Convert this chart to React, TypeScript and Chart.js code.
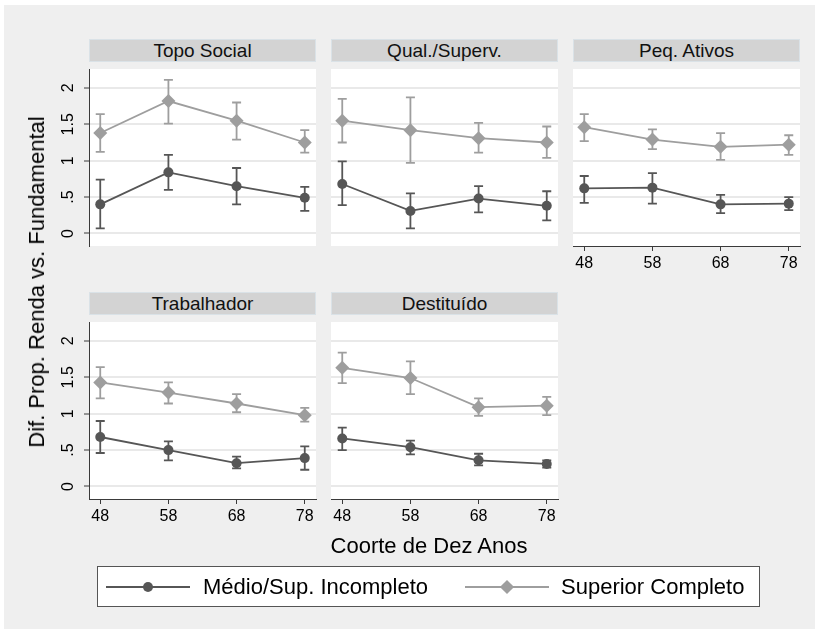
import React, { useEffect, useRef } from "react";
import { Chart, registerables } from "chart.js";
Chart.register(...registerables);

// ---------- data ----------
const cohorts = [48, 58, 68, 78];
const xTickLabels = ["48", "58", "68", "78"];
const panelTitles = ["Topo Social", "Qual./Superv.", "Peq. Ativos", "Trabalhador", "Destituído"];
const seriesLabels = ["Médio/Sup. Incompleto", "Superior Completo"];
const yTickValues = [0, 0.5, 1, 1.5, 2];
const yTickLabels = ["0", ".5", "1", "1.5", "2"];
const xAxisTitle = "Coorte de Dez Anos";
const yAxisTitle = "Dif. Prop. Renda vs. Fundamental";

const medioEst = [
  [0.40, 0.84, 0.65, 0.49],
  [0.68, 0.31, 0.48, 0.38],
  [0.62, 0.63, 0.40, 0.41],
  [0.68, 0.50, 0.32, 0.39],
  [0.66, 0.54, 0.36, 0.31],
];
const medioLo = [
  [0.07, 0.60, 0.40, 0.31],
  [0.39, 0.07, 0.29, 0.18],
  [0.42, 0.41, 0.28, 0.32],
  [0.46, 0.36, 0.25, 0.23],
  [0.50, 0.44, 0.29, 0.26],
];
const medioHi = [
  [0.74, 1.08, 0.90, 0.64],
  [0.99, 0.55, 0.65, 0.58],
  [0.79, 0.83, 0.53, 0.50],
  [0.90, 0.62, 0.41, 0.55],
  [0.81, 0.63, 0.45, 0.36],
];
const superEst = [
  [1.38, 1.82, 1.55, 1.25],
  [1.55, 1.42, 1.31, 1.25],
  [1.46, 1.29, 1.19, 1.22],
  [1.43, 1.29, 1.14, 0.98],
  [1.63, 1.49, 1.09, 1.11],
];
const superLo = [
  [1.12, 1.51, 1.29, 1.11],
  [1.25, 0.97, 1.11, 1.04],
  [1.27, 1.16, 1.01, 1.08],
  [1.21, 1.14, 1.02, 0.89],
  [1.42, 1.27, 0.97, 0.98],
];
const superHi = [
  [1.64, 2.11, 1.80, 1.42],
  [1.85, 1.87, 1.52, 1.47],
  [1.64, 1.43, 1.38, 1.35],
  [1.64, 1.43, 1.27, 1.08],
  [1.84, 1.72, 1.21, 1.23],
];

// ---------- layout & style ----------
const FONT = "'Liberation Sans', Arial, Helvetica, sans-serif";
const DARK = "#565656";
const LIGHT = "#9e9e9e";
const AXIS = "#3a3a3a";
const GRID = "#e9e9e9";
const BG = "#efefef";
const HEADER_BG = "#d3d3d3";
const PLOT_W = 227;
const PLOT_H = 184;
const HEADER_H = 23;
const AXIS_W = 60;
const AXIS_H = 40;
const PAD_R = 14;
const X_MIN = 46.35;
const X_MAX = 79.65;
const Y_MIN = -0.172;
const Y_MAX = 2.26;

const panelPos = [
  { left: 89, top: 62, yAxis: true, xAxis: false },
  { left: 331, top: 62, yAxis: false, xAxis: false },
  { left: 573, top: 62, yAxis: false, xAxis: true },
  { left: 89, top: 315, yAxis: true, xAxis: true },
  { left: 331, top: 315, yAxis: false, xAxis: true },
];

const bgPlugin = {
  id: "plotBg",
  beforeDraw(chart: any) {
    const { ctx, chartArea } = chart;
    ctx.save();
    ctx.fillStyle = "#ffffff";
    ctx.fillRect(chartArea.left, chartArea.top, chartArea.right - chartArea.left, chartArea.bottom - chartArea.top);
    ctx.restore();
  },
};

const errorBarPlugin = {
  id: "errorBars",
  beforeDatasetsDraw(chart: any) {
    const { ctx } = chart;
    const xs = chart.scales.x;
    const ys = chart.scales.y;
    chart.data.datasets.forEach((ds: any) => {
      ctx.save();
      ctx.strokeStyle = ds.borderColor;
      ctx.lineWidth = 1.8;
      ds.data.forEach((pt: any, j: number) => {
        const x = xs.getPixelForValue(pt.x);
        const yl = ys.getPixelForValue(ds.lo[j]);
        const yh = ys.getPixelForValue(ds.hi[j]);
        ctx.beginPath();
        ctx.moveTo(x, yl);
        ctx.lineTo(x, yh);
        ctx.moveTo(x - 4.5, yl);
        ctx.lineTo(x + 4.5, yl);
        ctx.moveTo(x - 4.5, yh);
        ctx.lineTo(x + 4.5, yh);
        ctx.stroke();
      });
      ctx.restore();
    });
  },
};

function makeYLabelPlugin(show: boolean) {
  return {
    id: "yLabels",
    afterDraw(chart: any) {
      if (!show) return;
      const { ctx, chartArea } = chart;
      const ys = chart.scales.y;
      ctx.save();
      ctx.fillStyle = "#000";
      ctx.font = `16px ${FONT}`;
      ctx.textAlign = "center";
      ctx.textBaseline = "middle";
      yTickValues.forEach((v, i) => {
        const y = ys.getPixelForValue(v);
        ctx.save();
        ctx.translate(chartArea.left - 20, y);
        ctx.rotate(-Math.PI / 2);
        ctx.fillText(yTickLabels[i], 0, 0);
        ctx.restore();
      });
      ctx.restore();
    },
  };
}

function Panel({ idx }: { idx: number }) {
  const ref = useRef<HTMLCanvasElement>(null);
  const pos = panelPos[idx];
  useEffect(() => {
    const chart = new Chart(ref.current as HTMLCanvasElement, {
      type: "scatter",
      data: {
        datasets: [
          {
            label: seriesLabels[0],
            data: cohorts.map((c, i) => ({ x: c, y: medioEst[idx][i] })),
            lo: medioLo[idx],
            hi: medioHi[idx],
            showLine: true,
            borderColor: DARK,
            backgroundColor: DARK,
            borderWidth: 1.8,
            pointStyle: "circle",
            pointRadius: 5,
            pointBorderWidth: 0,
            pointBackgroundColor: DARK,
          } as any,
          {
            label: seriesLabels[1],
            data: cohorts.map((c, i) => ({ x: c, y: superEst[idx][i] })),
            lo: superLo[idx],
            hi: superHi[idx],
            showLine: true,
            borderColor: LIGHT,
            backgroundColor: LIGHT,
            borderWidth: 1.8,
            pointStyle: "rectRot",
            pointRadius: 7,
            pointBorderWidth: 0,
            pointBackgroundColor: LIGHT,
          } as any,
        ],
      },
      options: {
        responsive: false,
        animation: false,
        devicePixelRatio: 1,
        layout: { padding: { left: 0, right: PAD_R, top: 0, bottom: 0 } },
        plugins: { legend: { display: false }, tooltip: { enabled: false } },
        scales: {
          x: {
            type: "linear",
            min: X_MIN,
            max: X_MAX,
            afterBuildTicks: (s: any) => {
              s.ticks = cohorts.map((v) => ({ value: v }));
            },
            afterFit: (s: any) => {
              s.height = AXIS_H;
            },
            ticks: {
              display: pos.xAxis,
              maxRotation: 0,
              minRotation: 0,
              padding: 3,
              color: "#000",
              font: { family: FONT, size: 16 },
              callback: (v: any) => xTickLabels[cohorts.indexOf(Number(v))] ?? "",
            },
            grid: {
              display: pos.xAxis,
              drawOnChartArea: false,
              drawTicks: true,
              tickLength: 5,
              color: AXIS,
              tickColor: AXIS,
              tickWidth: 1,
            },
            border: { display: pos.xAxis, color: AXIS, width: 1 },
          },
          y: {
            type: "linear",
            min: Y_MIN,
            max: Y_MAX,
            afterBuildTicks: (s: any) => {
              s.ticks = yTickValues.map((v) => ({ value: v }));
            },
            afterFit: (s: any) => {
              s.width = AXIS_W;
            },
            ticks: { display: false },
            grid: {
              color: GRID,
              lineWidth: 2,
              drawTicks: pos.yAxis,
              tickLength: 5,
              tickColor: AXIS,
              tickWidth: 1,
            },
            border: { display: pos.yAxis, color: AXIS, width: 1 },
          },
        },
      } as any,
      plugins: [bgPlugin, errorBarPlugin, makeYLabelPlugin(pos.yAxis)],
    });
    return () => chart.destroy();
  }, [idx]);

  const cw = PLOT_W + AXIS_W + PAD_R;
  const ch = PLOT_H + AXIS_H;
  return (
    <>
      <div
        style={{
          position: "absolute",
          left: pos.left,
          top: pos.top - HEADER_H,
          width: PLOT_W,
          height: HEADER_H,
          boxSizing: "border-box",
          background: HEADER_BG,
          border: "1px solid #dae2e7",
          fontFamily: FONT,
          fontSize: 19,
          lineHeight: `${HEADER_H - 2}px`,
          color: "#111",
          textAlign: "center",
          whiteSpace: "nowrap",
        }}
      >
        {panelTitles[idx]}
      </div>
      <canvas
        ref={ref}
        width={cw}
        height={ch}
        style={{ position: "absolute", left: pos.left - AXIS_W, top: pos.top, width: cw, height: ch }}
      />
    </>
  );
}

const legendText: React.CSSProperties = {
  position: "absolute",
  top: 0,
  height: 39,
  fontFamily: FONT,
  fontSize: 22,
  lineHeight: "39px",
  color: "#000",
  whiteSpace: "nowrap",
};

export default function App() {
  return (
    <div style={{ position: "absolute", left: 0, top: 0, width: 819, height: 633, background: "#fff", overflow: "hidden", fontFamily: FONT }}>
      <div style={{ position: "absolute", left: 4, top: 5, width: 811, height: 624, background: BG }} />
      {panelPos.map((_, i) => (
        <Panel key={i} idx={i} />
      ))}
      {/* y axis title */}
      <div
        style={{
          position: "absolute",
          left: 37,
          top: 282,
          transform: "translate(-50%, -50%) rotate(-90deg)",
          fontFamily: FONT,
          fontSize: 22,
          lineHeight: "26px",
          color: "#000",
          whiteSpace: "nowrap",
        }}
      >
        {yAxisTitle}
      </div>
      {/* x axis title */}
      <div
        style={{
          position: "absolute",
          left: 429,
          top: 546,
          transform: "translate(-50%, -50%)",
          fontFamily: FONT,
          fontSize: 22,
          lineHeight: "26px",
          color: "#000",
          whiteSpace: "nowrap",
        }}
      >
        {xAxisTitle}
      </div>
      {/* legend */}
      <div
        style={{
          position: "absolute",
          left: 97,
          top: 566,
          width: 663,
          height: 41,
          boxSizing: "border-box",
          background: "#fff",
          border: "1px solid #555",
        }}
      >
        <div style={{ position: "absolute", left: 8, top: 19, width: 84, height: 2, background: DARK }} />
        <div style={{ position: "absolute", left: 45, top: 15, width: 10, height: 10, borderRadius: "50%", background: DARK }} />
        <div style={{ ...legendText, left: 105 }}>{seriesLabels[0]}</div>
        <div style={{ position: "absolute", left: 367, top: 19, width: 84, height: 2, background: LIGHT }} />
        <div style={{ position: "absolute", left: 404, top: 15, width: 10, height: 10, transform: "rotate(45deg)", background: LIGHT }} />
        <div style={{ ...legendText, left: 463 }}>{seriesLabels[1]}</div>
      </div>
    </div>
  );
}
